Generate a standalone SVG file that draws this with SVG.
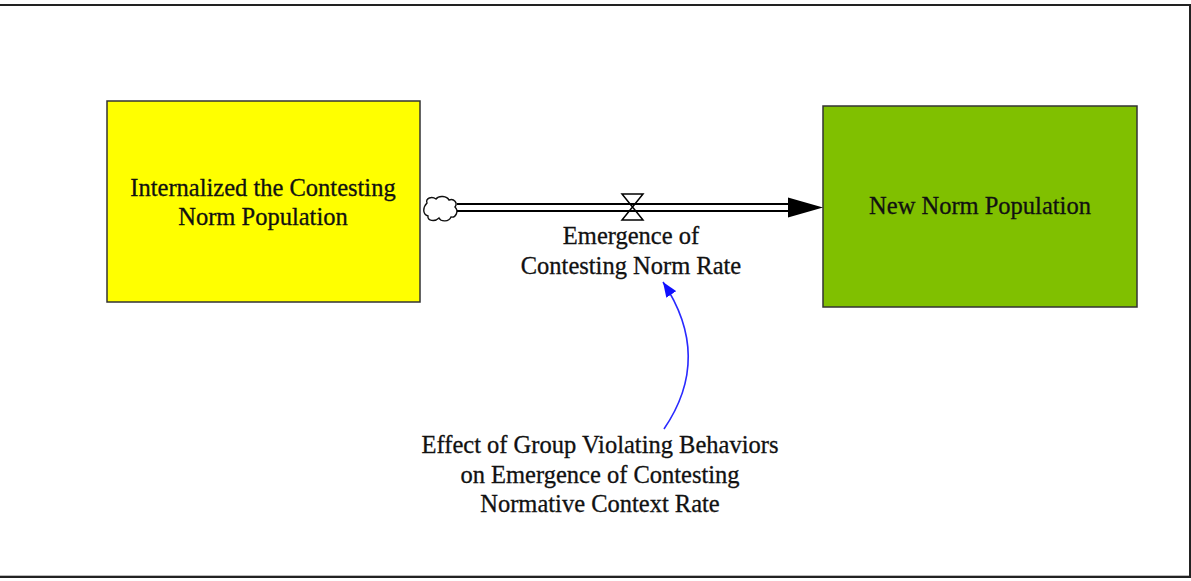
<svg xmlns="http://www.w3.org/2000/svg" width="1191" height="581" viewBox="0 0 1191 581">
  <style>
    .lbl { font-family: "Liberation Serif", "Times New Roman", serif; font-size: 24.5px; fill: #111; stroke: #111; stroke-width: 0.3; text-anchor: middle; }
    .stock { stroke: #333; stroke-width: 1.5; }
    .pipe { stroke: #000; stroke-width: 1.8; fill: none; }
    .link { stroke: #2a2aff; stroke-width: 1.6; fill: none; }
  </style>
  <defs>
    <marker id="blueHead" markerUnits="userSpaceOnUse" markerWidth="16" markerHeight="12" refX="15" refY="6" orient="auto">
      <path d="M0,0 L15,6 L0,12 z" fill="#1010ff"/>
    </marker>
  </defs>

  <rect x="0" y="0" width="1191" height="581" fill="#fff"/>
  <!-- frame -->
  <polyline points="0,5 1190,5 1190,577 0,577" fill="none" stroke="#222" stroke-width="2"/>
  <line x1="0" y1="575.5" x2="1189" y2="575.5" stroke="#bbb" stroke-width="1"/>

  <!-- stocks -->
  <g id="stock-internalized">
    <rect class="stock" x="107" y="101" width="313" height="201" fill="#ffff00"/>
    <text class="lbl" x="263" y="196">Internalized the Contesting</text>
    <text class="lbl" x="263" y="225">Norm Population</text>
  </g>

  <g id="stock-new-norm">
    <rect class="stock" x="823" y="106" width="314" height="201" fill="#80c000"/>
    <text class="lbl" x="980" y="214">New Norm Population</text>
  </g>

  <!-- source cloud -->
  <g id="source-cloud">
    <path d="M427,203 C425,198 432,196 436,199 C439,195 447,196 449,200 C454,198 458,203 455,207 C459,211 456,218 451,217 C449,222 441,222 439,218 C435,222 427,221 428,216 C422,214 423,207 427,203 Z" fill="#fff" stroke="#111" stroke-width="1.4"/>
  </g>

  <!-- flow rate -->
  <g id="flow-emergence">
    <line class="pipe" x1="457" y1="204" x2="792" y2="204"/>
    <line class="pipe" x1="457" y1="211" x2="792" y2="211"/>
    <polygon points="788,197.5 823,207.5 788,217.5" fill="#000"/>
    <path d="M622,194 L643,194 L622,220 L643,220 Z" fill="none" stroke="#000" stroke-width="1.5"/>
    <text class="lbl" x="631" y="244">Emergence of</text>
    <text class="lbl" x="631" y="274">Contesting Norm Rate</text>
  </g>

  <!-- auxiliary -->
  <g id="aux-effect">
    <text class="lbl" x="600" y="453">Effect of Group Violating Behaviors</text>
    <text class="lbl" x="600" y="483">on Emergence of Contesting</text>
    <text class="lbl" x="600" y="512">Normative Context Rate</text>
  </g>

  <!-- connectors -->
  <g id="connectors">
    <path class="link" d="M664,429 Q713,357 663,282" marker-end="url(#blueHead)"/>
  </g>
</svg>
